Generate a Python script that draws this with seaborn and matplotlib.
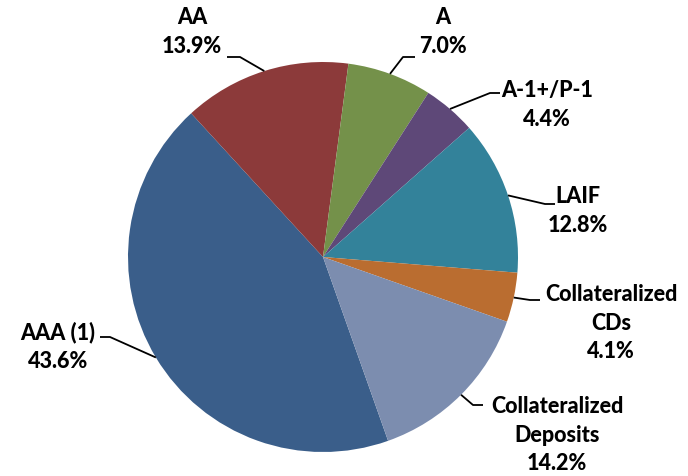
import numpy as np
import matplotlib
matplotlib.use("Agg")
import matplotlib.pyplot as plt
import seaborn as sns

# ---- data ----
categories = ["AAA (1)", "AA", "A", "A-1+/P-1", "LAIF", "Collateralized\nCDs", "Collateralized\nDeposits"]
shares = [43.6, 13.9, 7.0, 4.4, 12.8, 4.1, 14.2]
colors = ["#3A5E8A", "#8C3A3A", "#74914A", "#5E4878", "#33829A", "#BA6D30", "#7C8DAF"]

# ---- layout (pixel positions of label blocks and leader elbows) ----
W, H = 688, 476
CX, CY, R = 323, 257, 195
label_xy = [(58, 347), (192, 32), (443, 32), (547, 105), (578, 211), (611, 323), (557, 435)]
elbow_xy = [(110, 337), (240, 57), (403, 57), (490, 93), (545, 204), (530, 300), (473, 405)]
end_xy = [(100, 337), (227, 57), (415, 57), (500, 93), (555, 204), (540, 300), (483, 405)]

sns.set_theme(style="white")
plt.rcParams["font.family"] = ["Lato", "DejaVu Sans"]

fig = plt.figure(figsize=(W / 100, H / 100), dpi=100)
ax = fig.add_axes([0, 0, 1, 1])


def px(p):
    return ((p[0] - CX) / R, (CY - p[1]) / R)


wedges, _ = ax.pie(shares, colors=colors, startangle=-70.5, counterclock=False,
                   radius=1.0, center=(0, 0), frame=True,
                   wedgeprops=dict(linewidth=0))
ax.set_xlim(-CX / R, (W - CX) / R)
ax.set_ylim(-(H - CY) / R, CY / R)
ax.set_aspect("equal")
ax.axis("off")

for w, cat, val, lab, elb, end in zip(wedges, categories, shares, label_xy, elbow_xy, end_xy):
    mid = np.deg2rad((w.theta1 + w.theta2) / 2)
    ex, ey = np.cos(mid) * w.r, np.sin(mid) * w.r
    e1 = px(elb)
    e2 = px(end)
    ax.plot([ex, e1[0], e2[0]], [ey, e1[1], e2[1]], color="black", lw=1.3,
            solid_capstyle="butt")
    tx, ty = px(lab)
    ax.text(tx, ty, f"{cat}\n{val:.1f}%", ha="center", va="center",
            multialignment="center", fontsize=15.5, fontweight="black",
            color="black", linespacing=1.45)

fig.savefig("out.png", dpi=100, facecolor="white")
